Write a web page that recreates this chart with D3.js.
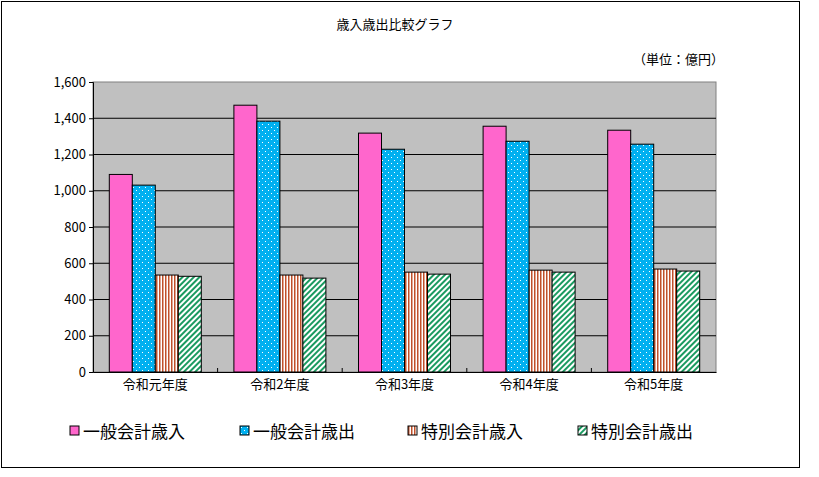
<!DOCTYPE html>
<html><head><meta charset="utf-8">
<script src="https://cdn.jsdelivr.net/npm/d3@7"></script>
<style>body{margin:0;background:#fff}text{font-family:"Noto Sans CJK JP",sans-serif}</style>
</head><body><svg id="c" width="819" height="477"></svg>
<script>
const categories=["令和元年度","令和2年度","令和3年度","令和4年度","令和5年度"];
const seriesNames=["一般会計歳入","一般会計歳出","特別会計歳入","特別会計歳出"];
const s1=[1090,1031,1318,1356,1334];
const s2=[1031,1384,1229,1273,1257];
const s3=[535,535,551,562,568];
const s4=[528,518,540,551,557];
s1[1]=1472;
const series=[s1,s2,s3,s4];
const yTicks=[0,200,400,600,800,1000,1200,1400,1600];

const svg=d3.select("#c");
const defs=svg.append("defs");
let p=defs.append("pattern").attr("id","p0").attr("width",4).attr("height",4).attr("patternUnits","userSpaceOnUse");
p.append("rect").attr("width",4).attr("height",4).attr("fill","#ff66cc");
p=defs.append("pattern").attr("id","p1").attr("width",6).attr("height",6).attr("patternUnits","userSpaceOnUse");
p.append("rect").attr("width",6).attr("height",6).attr("fill","#00b0f0");
p.append("rect").attr("x",1).attr("y",1).attr("width",1).attr("height",1).attr("fill","#fff");
p.append("rect").attr("x",4).attr("y",4).attr("width",1).attr("height",1).attr("fill","#fff");
p=defs.append("pattern").attr("id","p2").attr("width",3).attr("height",3).attr("patternUnits","userSpaceOnUse");
p.append("rect").attr("width",3).attr("height",3).attr("fill","#fff");
p.append("rect").attr("width",1.5).attr("height",3).attr("fill","#c0502a");
p=defs.append("pattern").attr("id","p3").attr("width",4).attr("height",4).attr("patternUnits","userSpaceOnUse").attr("patternTransform","rotate(45)");
p.append("rect").attr("width",4).attr("height",4).attr("fill","#fff");
p.append("rect").attr("width",2).attr("height",4).attr("fill","#1a9a60");
const fills=["url(#p0)","url(#p1)","url(#p2)","url(#p3)"];

svg.append("rect").attr("x",1.5).attr("y",1.5).attr("width",798).attr("height",466).attr("fill","#fff").attr("stroke","#000");
const L=93,R=716,T=82,B=372;
const x=d3.scaleBand().domain(categories).range([L,R]);
const y=d3.scaleLinear().domain([0,1600]).range([B,T]);
svg.append("rect").attr("x",L).attr("y",T).attr("width",R-L).attr("height",B-T).attr("fill","#c0c0c0").attr("stroke","#808080");
svg.append("g").selectAll("line").data(yTicks.slice(1,-1)).join("line")
 .attr("x1",L).attr("x2",R).attr("y1",d=>y(d)).attr("y2",d=>y(d)).attr("stroke","#000");
const ya=svg.append("g").attr("transform",`translate(${L},0)`).call(d3.axisLeft(y).tickValues(yTicks).tickFormat(d3.format(",")).tickSize(4));
ya.selectAll("text").attr("font-size",13).attr("fill","#000");
ya.select(".domain").attr("stroke","#000");
const xa=svg.append("g").attr("transform",`translate(0,${B})`).call(d3.axisBottom(x).tickSize(0).tickPadding(8));
xa.selectAll("text").attr("font-size",13).attr("fill","#000");
xa.select(".domain").attr("stroke","#000");
svg.append("g").selectAll("line").data(categories.slice(1)).join("line")
 .attr("x1",d=>x(d)).attr("x2",d=>x(d)).attr("y1",B).attr("y2",B-4).attr("stroke","#000");
const bw=23, off=(x.bandwidth()-bw*4)/2;
series.forEach((s,i)=>{
 svg.append("g").selectAll("rect").data(s).join("rect")
  .attr("x",(d,j)=>x(categories[j])+off+i*bw).attr("width",bw)
  .attr("y",d=>y(d)).attr("height",d=>B-y(d))
  .attr("fill",fills[i]).attr("stroke","#000").attr("stroke-width",1);
});
svg.append("text").attr("x",395).attr("y",29).attr("text-anchor","middle").attr("font-size",13).text("歳入歳出比較グラフ");
svg.append("text").attr("x",724).attr("y",64).attr("text-anchor","end").attr("font-size",13).text("（単位：億円）");
const lx=[70,240,408,578];
seriesNames.forEach((n,i)=>{
 svg.append("rect").attr("x",lx[i]).attr("y",426).attr("width",9).attr("height",9).attr("fill",fills[i]).attr("stroke","#000");
 svg.append("text").attr("x",lx[i]+13).attr("y",438).attr("font-size",17).text(n);
});
</script></body></html>
